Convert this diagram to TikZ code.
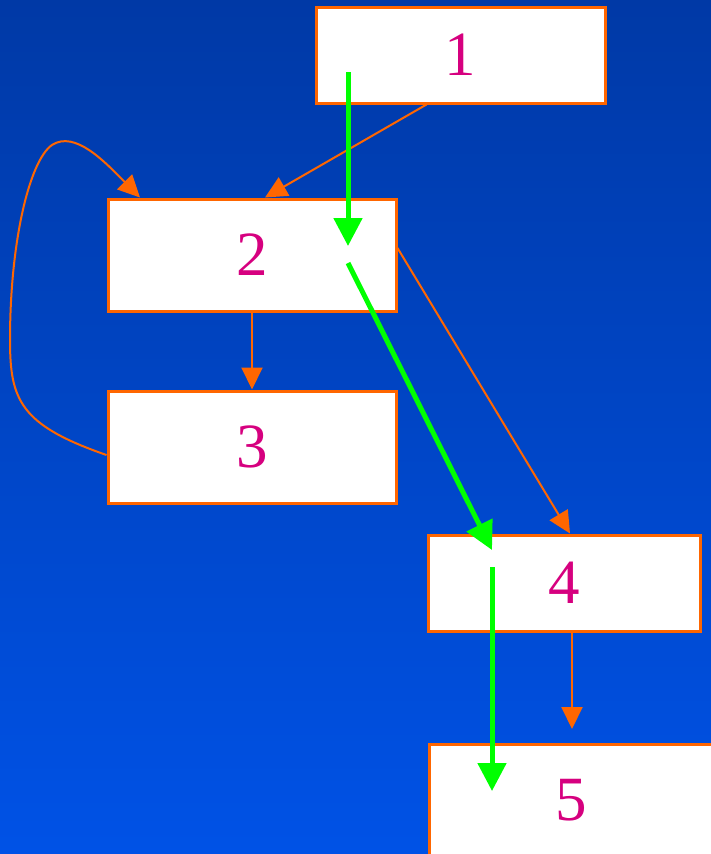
\documentclass[tikz,border=0pt]{standalone}
\usepackage{fontspec}
\setmainfont{Liberation Serif}
\usetikzlibrary{arrows.meta}
\definecolor{bgtop}{RGB}{0,57,166}
\definecolor{bgbot}{RGB}{0,82,230}
\definecolor{orng}{RGB}{255,102,0}
\definecolor{grn}{RGB}{0,255,0}
\definecolor{mag}{RGB}{214,0,127}
\tikzset{
  box/.style={draw=orng, line width=3pt, fill=white, inner sep=0pt,
    text=mag, font=\fontsize{63}{63}\selectfont},
  oarr/.style={draw=orng, line width=2pt, -{Triangle[length=22pt,width=21pt]}},
  garr/.style={draw=grn, line width=5pt, -{Triangle[length=28pt,width=28pt]}}
}
\begin{document}
\begin{tikzpicture}[x=1pt,y=-1pt]
\useasboundingbox (0,0) rectangle (711,854);
\shade[top color=bgtop, bottom color=bgbot] (0,0) rectangle (711,854);
\clip (0,0) rectangle (711,854);
\node[box, minimum width=289pt, minimum height=96pt] (b1) at (460.5,55) {1};
\node[box, minimum width=288pt, minimum height=112pt] (b2) at (252,255) {2};
\node[box, minimum width=288pt, minimum height=112pt] (b3) at (252,447) {3};
\node[box, minimum width=272pt, minimum height=96pt] (b4) at (564,583) {4};
\node[box, minimum width=288pt, minimum height=130pt, anchor=north west] (b5) at (428,743) {};
\node[text=mag, font=\fontsize{63}{63}\selectfont] (t5) at (571,800) {5};
% orange connectors
\draw[oarr] (b1.south west) ++(112,0) coordinate (o1a) -- (b2.north west -| 265,0);
\draw[oarr] (b2.south) -- (b3.north);
\draw[oarr] (b2.east |- 0,248) -- (b4.north -| 570,0);
\coordinate (o45) at (572,729);
\draw[oarr] (b4.south -| 572,0) -- (o45);
\draw[oarr] (b3.west |- 0,455) .. controls (20,425) and (10,400) .. (10,340)
  .. controls (10,240) and (30,160) .. (52,145)
  .. controls (75,130) and (105,162) .. (b2.north west -| 140,0);
% green connectors
\coordinate (g1) at (348,72);
\coordinate (g2) at (348,246);
\coordinate (g3) at (348,263);
\coordinate (g4) at (492,550);
\coordinate (g5) at (492,567);
\coordinate (g6) at (492,791);
\draw[garr] (g1) -- (g2);
\draw[garr] (g3) -- (g4);
\draw[garr] (g5) -- (g6);
\end{tikzpicture}
\end{document}
